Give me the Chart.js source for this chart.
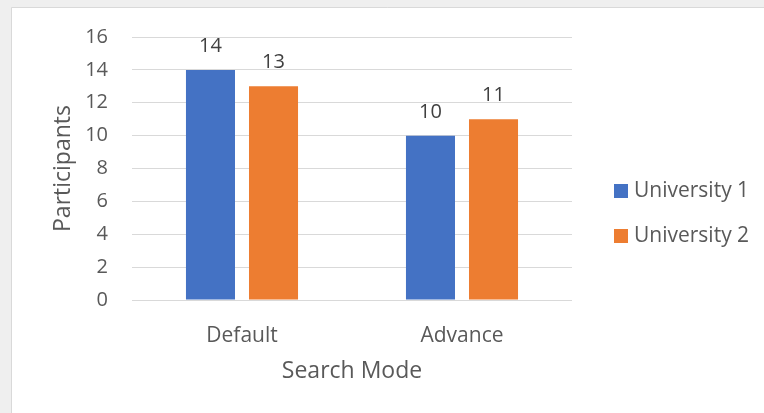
<!DOCTYPE html>
<html>
<head>
<meta charset="utf-8">
<script src="https://cdn.jsdelivr.net/npm/chart.js@4.4.1/dist/chart.umd.min.js"></script>
<style>
  html, body { margin: 0; padding: 0; background: #ffffff; }
  canvas { display: block; }
</style>
</head>
<body>
<canvas id="chart" width="764" height="413"></canvas>
<script>
const categories = ['Default', 'Advance'];
const university1 = [14, 10];
const university2 = [13, 11];
const seriesNames = ['University 1', 'University 2'];
const yTicks = { min: 0, max: 16, step: 2 };

const textColor = '#595959';
const fontFamily = "'Open Sans', 'Noto Sans', sans-serif";

// page frame: grey strip on top/left and a light border round the chart
const framePlugin = {
    id: 'frame',
    beforeDraw(chart) {
        const ctx = chart.ctx;
        ctx.save();
        ctx.fillStyle = '#efefef';
        ctx.fillRect(0, 0, chart.width, chart.height);
        ctx.fillStyle = '#ffffff';
        ctx.fillRect(12, 8, chart.width - 12, chart.height - 8);
        ctx.strokeStyle = '#d9d9d9';
        ctx.lineWidth = 1;
        ctx.beginPath();
        ctx.moveTo(11.5, chart.height);
        ctx.lineTo(11.5, 7.5);
        ctx.lineTo(chart.width, 7.5);
        ctx.stroke();
        ctx.restore();
    }
};

// value labels above each bar
const valueLabels = {
    id: 'valueLabels',
    afterDatasetsDraw(chart) {
        const ctx = chart.ctx;
        ctx.save();
        ctx.font = '20px ' + fontFamily;
        ctx.fillStyle = '#404040';
        ctx.textAlign = 'center';
        ctx.textBaseline = 'alphabetic';
        chart.data.datasets.forEach((ds, i) => {
            chart.getDatasetMeta(i).data.forEach((bar, j) => {
                ctx.fillText(ds.data[j], bar.x, bar.y - 18);
            });
        });
        ctx.restore();
    }
};

// legend to the right of the plot, Excel style
const sideLegend = {
    id: 'sideLegend',
    afterDraw(chart) {
        const ctx = chart.ctx;
        const area = chart.chartArea;
        const rowGap = 45;
        const n = chart.data.datasets.length;
        const midY = (area.top + area.bottom) / 2 + 45;
        const x = area.right + 42;
        ctx.save();
        ctx.font = '21px ' + fontFamily;
        ctx.textBaseline = 'middle';
        ctx.textAlign = 'left';
        chart.data.datasets.forEach((ds, i) => {
            const y = midY + (i - (n - 1) / 2) * rowGap;
            ctx.fillStyle = ds.backgroundColor;
            ctx.fillRect(x, y - 7, 14, 14);
            ctx.fillStyle = textColor;
            ctx.fillText(ds.label, x + 20, y);
        });
        ctx.restore();
    }
};

new Chart(document.getElementById('chart'), {
    type: 'bar',
    data: {
        labels: categories,
        datasets: [{
            label: seriesNames[0],
            data: university1,
            backgroundColor: '#4472c4'
        }, {
            label: seriesNames[1],
            data: university2,
            backgroundColor: '#ed7d31'
        }]
    },
    options: {
        responsive: false,
        animation: false,
        devicePixelRatio: 1,
        categoryPercentage: 0.573,
        barPercentage: 0.778,
        layout: {
            padding: { left: 40, top: 37, right: 192, bottom: 10 }
        },
        scales: {
            x: {
                grid: { display: false },
                border: { display: false },
                ticks: {
                    color: textColor,
                    font: { family: fontFamily, size: 21 },
                    padding: 15
                },
                title: {
                    display: true,
                    text: 'Search Mode',
                    color: textColor,
                    font: { family: fontFamily, size: 23 },
                    padding: { top: 8, bottom: 18 }
                },
                afterFit(scale) { scale.height = 103; }
            },
            y: {
                min: yTicks.min,
                max: yTicks.max,
                grid: { color: '#d9d9d9', drawTicks: false },
                border: { display: false },
                ticks: {
                    stepSize: yTicks.step,
                    color: textColor,
                    font: { family: fontFamily, size: 20 },
                    padding: 24
                },
                title: {
                    display: true,
                    text: 'Participants',
                    color: textColor,
                    font: { family: fontFamily, size: 23 },
                    padding: { top: 10, bottom: 0 }
                },
                afterFit(scale) { scale.width = 92; }
            }
        },
        plugins: {
            legend: { display: false },
            tooltip: { enabled: false }
        }
    },
    plugins: [framePlugin, valueLabels, sideLegend]
});
</script>
</body>
</html>
